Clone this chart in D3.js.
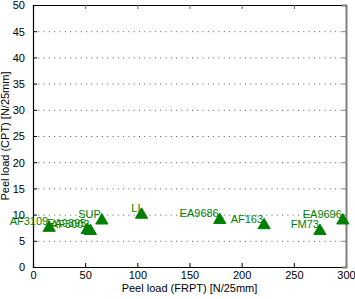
<!DOCTYPE html>
<html>
<head>
<meta charset="utf-8">
<script src="https://cdn.jsdelivr.net/npm/d3@7"></script>
<style>
  html, body { margin: 0; padding: 0; background: #fff; }
  svg text { font-family: "Liberation Sans", Arial, sans-serif; }
</style>
</head>
<body>
<div id="chart"></div>
<script>
// adhesive names and peel loads
const names = ['AF3109', 'EA9395', 'AF3002', 'SUP', 'LI', 'EA9686', 'AF163', 'FM73', 'EA9696'];
const frpt = [15.5, 52, 55, 66, 104, 179, 221.5, 275, 297];
const cpt = [7.8, 7.4, 7.2, 9.2, 10.3, 9.3, 8.3, 7.2, 9.2];

const xTicks = [0, 50, 100, 150, 200, 250, 300];
const yTicks = [0, 5, 10, 15, 20, 25, 30, 35, 40, 45, 50];
const gridTicks = [5, 10, 15, 20, 25, 30, 35, 40, 45];

const width = 355, height = 299;
const margin = { top: 5, right: 9, bottom: 32, left: 33 };
const green = '#008000';

const svg = d3.select('#chart').append('svg')
  .attr('width', width).attr('height', height);

const x = d3.scaleLinear().domain([0, 300]).range([margin.left, width - margin.right]);
const y = d3.scaleLinear().domain([0, 50]).range([height - margin.bottom, margin.top]);

// dotted grid
svg.append('g').selectAll('line').data(gridTicks).enter().append('line')
  .attr('x1', x(0)).attr('x2', x(300))
  .attr('y1', d => y(d) + 0.5).attr('y2', d => y(d) + 0.5)
  .attr('stroke', '#555').attr('stroke-width', 1)
  .attr('stroke-dasharray', '1,4.3');

// axes
const xAxis = svg.append('g').attr('transform', `translate(0,${y(0)})`)
  .call(d3.axisBottom(x).tickValues(xTicks).tickSize(-4));
const xTop = svg.append('g').attr('transform', `translate(0,${y(50)})`)
  .call(d3.axisTop(x).tickValues(xTicks).tickSize(-4).tickFormat(''));
const yAxis = svg.append('g').attr('transform', `translate(${x(0)},0)`)
  .call(d3.axisLeft(y).tickValues(yTicks).tickSize(-4).tickPadding(8));
const yRight = svg.append('g').attr('transform', `translate(${x(300)},0)`)
  .call(d3.axisRight(y).tickValues(yTicks).tickSize(-4).tickFormat(''));

[xAxis, xTop, yAxis, yRight].forEach(g => {
  g.selectAll('text').style('font-size', '11px').attr('fill', '#000');
  g.select('.domain').attr('stroke', '#000').attr('stroke-width', 1.2);
  g.selectAll('.tick line').attr('stroke', '#000');
});
yRight.select('.domain').attr('stroke', '#808080').attr('stroke-width', 2);
yRight.selectAll('.tick line').attr('stroke', '#808080');
xTop.selectAll('.tick line').attr('stroke', '#666');
xAxis.selectAll('text').attr('y', 12).attr('dy', 0);
yAxis.selectAll('text').attr('dy', '0.36em');

// axis titles
svg.append('text')
  .attr('x', (x(0) + x(300)) / 2).attr('y', 292)
  .attr('text-anchor', 'middle').style('font-size', '11px')
  .text('Peel load (FRPT) [N/25mm]');
svg.append('text')
  .attr('transform', `translate(9,${(y(0) + y(50)) / 2}) rotate(-90)`)
  .attr('text-anchor', 'middle').style('font-size', '11px')
  .text('Peel load (CPT) [N/25mm]');

// triangle markers
const tri = {
  draw(ctx, size) {
    const w = Math.sqrt(size), h = w * 0.85;
    ctx.moveTo(0, -h / 2);
    ctx.lineTo(w / 2, h / 2);
    ctx.lineTo(-w / 2, h / 2);
    ctx.closePath();
  }
};
const pts = names.map((n, i) => ({ name: n, fx: frpt[i], cy: cpt[i] }));

svg.append('g').selectAll('path').data(pts).enter().append('path')
  .attr('transform', d => `translate(${x(d.fx)},${y(d.cy)})`)
  .attr('d', d3.symbol().type(tri).size(150))
  .attr('fill', green).attr('stroke', green);

svg.append('g').selectAll('text').data(pts).enter().append('text')
  .attr('x', d => x(d.fx) - 1).attr('y', d => y(d.cy) - 1)
  .attr('text-anchor', 'end').style('font-size', '11px')
  .attr('fill', green)
  .text(d => d.name);
</script>
</body>
</html>
